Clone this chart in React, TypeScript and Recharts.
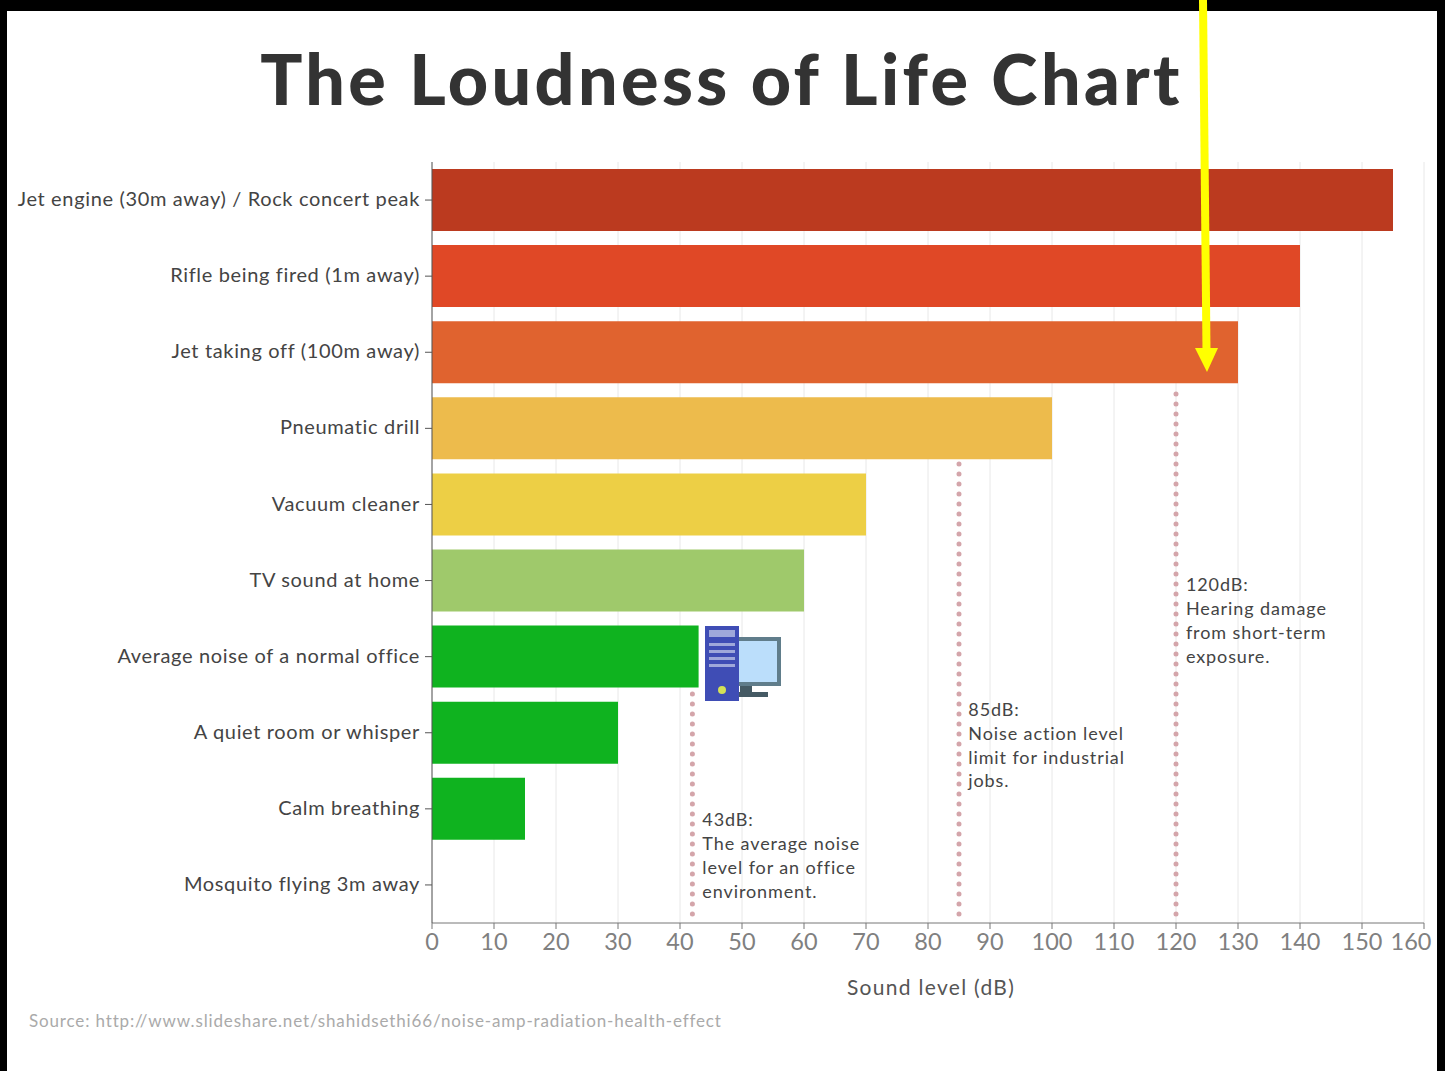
import { BarChart, Bar, Cell, XAxis, YAxis, CartesianGrid, ReferenceLine } from "recharts";

const sources = [
  "Jet engine (30m away) / Rock concert peak",
  "Rifle being fired (1m away)",
  "Jet taking off (100m away)",
  "Pneumatic drill",
  "Vacuum cleaner",
  "TV sound at home",
  "Average noise of a normal office",
  "A quiet room or whisper",
  "Calm breathing",
  "Mosquito flying 3m away",
];
const levels = [155, 140, 130, 100, 70, 60, 43, 30, 15, 0];
const barColors = ["#bb3a1f", "#e04826", "#e0632f", "#edbb4c", "#edcf45", "#9fc96b", "#0fb31f", "#0fb31f", "#0fb31f", "#0fb31f"];
const xTicks = [0, 10, 20, 30, 40, 50, 60, 70, 80, 90, 100, 110, 120, 130, 140, 150, 160];

// dotted markers: x in dB, start and end of the line as a share of the plot height
const markerLevels = [42, 85, 120];
const markerStarts = [0.699, 0.397, 0.305];
const markerEnd = 0.998;
const noteX = [43.6, 86.5, 121.6];
const noteY = [0.867, 0.722, 0.558];
const noteLines = [
  ["43dB:", "The average noise", "level for an office", "environment."],
  ["85dB:", "Noise action level", "limit for industrial", "jobs."],
  ["120dB:", "Hearing damage", "from short-term", "exposure."],
];

const data = sources.map((name, i) => ({ name, level: levels[i] }));
const font = "Lato, 'Open Sans', sans-serif";

type LineProps = { x1?: number; y1?: number; y2?: number };

function Marker({ x1 = 0, y1 = 0, y2 = 0, start }: LineProps & { start: number }) {
  const top = Math.min(y1, y2);
  const h = Math.abs(y2 - y1);
  return (
    <line
      x1={x1}
      x2={x1}
      y1={top + start * h}
      y2={top + markerEnd * h}
      stroke="#d4a5aa"
      strokeWidth={5}
      strokeLinecap="round"
      strokeDasharray="0 10"
    />
  );
}

function Note({ x1 = 0, y1 = 0, y2 = 0, at, lines }: LineProps & { at: number; lines: string[] }) {
  const y = Math.min(y1, y2) + at * Math.abs(y2 - y1);
  return (
    <text fontFamily={font} fontSize={18} fill="#444" letterSpacing={0.9}>
      {lines.map((line, i) => (
        <tspan key={line} x={x1} y={y + i * 23.8} dominantBaseline="middle">
          {line}
        </tspan>
      ))}
    </text>
  );
}

// the last label is pulled back inside the plot
function XTick({ x = 0, y = 0, payload }: { x?: number; y?: number; payload?: { value: number } }) {
  const value = payload?.value ?? 0;
  return (
    <text x={value === 160 ? x - 13 : x} y={y + 19} textAnchor="middle" fontFamily={font} fontSize={23.5} fill="#808080">
      {value}
    </text>
  );
}

function ComputerIcon() {
  return (
    <svg width={78} height={76} style={{ position: "absolute", left: 704, top: 626 }}>
      <rect x={30} y={11} width={47} height={49} fill="#607d8b" />
      <rect x={34} y={15} width={39} height={41} fill="#bbdefb" />
      <rect x={36} y={60} width={12} height={7} fill="#455a64" />
      <rect x={30} y={66} width={34} height={5} fill="#455a64" />
      <rect x={1} y={0} width={34} height={75} fill="#3f4db5" />
      <rect x={5} y={4} width={26} height={7} fill="#9fa8da" />
      <rect x={5} y={17} width={26} height={3} fill="#9fa8da" />
      <rect x={5} y={24} width={26} height={3} fill="#9fa8da" />
      <rect x={5} y={31} width={26} height={3} fill="#9fa8da" />
      <rect x={5} y={38} width={26} height={3} fill="#9fa8da" />
      <circle cx={18} cy={64} r={4} fill="#d4e157" />
    </svg>
  );
}

function YellowArrow() {
  return (
    <svg width={1445} height={1071} style={{ position: "absolute", left: 0, top: 0, pointerEvents: "none" }}>
      <line x1={1203} y1={0} x2={1206.5} y2={350} stroke="#ffff00" strokeWidth={8} />
      <polygon points="1195,348 1218,348 1207,372" fill="#ffff00" />
    </svg>
  );
}

export default function App() {
  return (
    <div style={{ position: "absolute", left: 0, top: 0, width: 1445, height: 1071, background: "#000", overflow: "hidden" }}>
      <div style={{ position: "absolute", left: 7, top: 11, width: 1430, height: 1060, background: "#fff" }} />
      <div
        style={{
          position: "absolute",
          left: 0,
          top: 35,
          width: 1443,
          textAlign: "center",
          fontFamily: font,
          fontWeight: 900,
          fontSize: 70,
          lineHeight: "86px",
          color: "#333",
          letterSpacing: 3.4,
        }}
      >
        The Loudness of Life Chart
      </div>
      <div style={{ position: "absolute", left: 0, top: 0 }}>
        <BarChart
          width={1445}
          height={1071}
          data={data}
          layout="vertical"
          barCategoryGap={7}
          margin={{ top: 162, right: 21, bottom: 78, left: 2 }}
        >
          <CartesianGrid horizontal={false} stroke="#e8e8e8" />
          <XAxis
            type="number"
            domain={[0, 160]}
            ticks={xTicks}
            interval={0}
            height={70}
            tickSize={6}
            stroke="#777"
            tick={<XTick />}
            label={{ value: "Sound level (dB)", position: "insideBottom", offset: -2, dx: 3, fontFamily: font, fontSize: 21, fill: "#555", letterSpacing: 1.3 }}
          />
          <YAxis
            type="category"
            dataKey="name"
            width={430}
            interval={0}
            tickSize={7}
            tickMargin={5}
            stroke="#555"
            tick={{ fontFamily: font, fontSize: 20, fill: "#444", letterSpacing: 0.65, dy: -1 }}
          />
          <Bar dataKey="level" isAnimationActive={false}>
            {data.map((d, i) => (
              <Cell key={d.name} fill={barColors[i]} />
            ))}
          </Bar>
          {markerLevels.map((level, i) => (
            <ReferenceLine key={level} x={level} shape={(props: LineProps) => <Marker {...props} start={markerStarts[i]} />} />
          ))}
          {noteLines.map((lines, i) => (
            <ReferenceLine key={lines[0]} x={noteX[i]} shape={(props: LineProps) => <Note {...props} at={noteY[i]} lines={lines} />} />
          ))}
        </BarChart>
      </div>
      <ComputerIcon />
      <YellowArrow />
      <div style={{ position: "absolute", left: 29, top: 1011, fontFamily: font, fontSize: 17, lineHeight: "20px", color: "#aaa", letterSpacing: 0.85 }}>
        Source: http://www.slideshare.net/shahidsethi66/noise-amp-radiation-health-effect
      </div>
    </div>
  );
}
